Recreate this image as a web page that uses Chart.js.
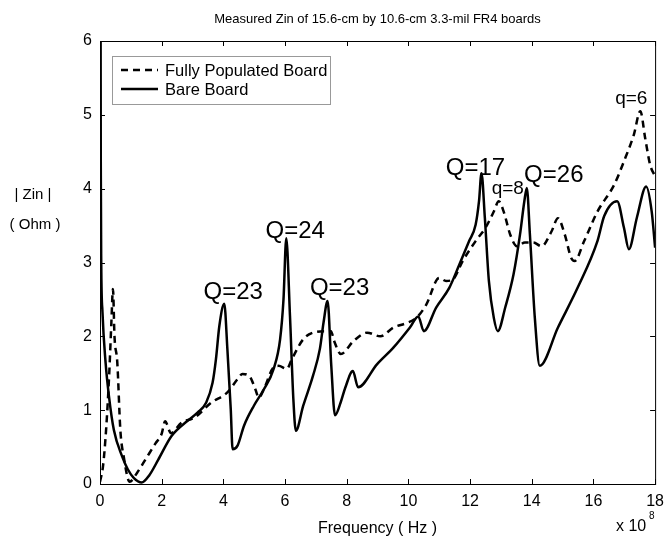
<!DOCTYPE html>
<html><head><meta charset="utf-8">
<script src="https://cdn.jsdelivr.net/npm/chart.js@4.4.0/dist/chart.umd.min.js"></script>
<style>html,body{margin:0;padding:0;background:#fff}</style>
</head><body><canvas id="c" width="672" height="539"></canvas>
<script>
// ---- data (frequency in units of 1e8 Hz, |Zin| in Ohm) ----
const bareFreq = [0.02,0.025,0.04,0.08,0.18,0.29,0.45,0.72,0.9,1.1,1.35,1.6,1.89,2.32,2.85,3.17,3.44,3.65,3.76,3.87,4.03,4.13,4.24,4.3,4.46,4.67,4.99,5.31,5.63,5.84,5.95,6.04,6.16,6.27,6.35,6.59,6.91,7.13,7.25,7.38,7.5,7.62,7.8,7.95,8.2,8.37,8.98,9.52,10.05,10.32,10.5,10.9,11.33,11.65,11.97,12.18,12.29,12.37,12.48,12.61,12.77,12.9,13.14,13.41,13.62,13.76,13.84,13.94,14.1,14.26,14.85,15.49,16.13,16.35,16.77,16.99,17.15,17.41,17.71,17.89,18.0];
const bareZin  = [6.0,4.36,3.0,2.33,1.65,1.19,0.73,0.37,0.2,0.08,0.02,0.12,0.33,0.65,0.86,0.97,1.1,1.37,1.69,2.14,2.44,1.83,1.01,0.47,0.52,0.79,1.06,1.28,1.56,1.96,2.5,3.33,2.28,1.15,0.72,1.06,1.47,1.83,2.19,2.48,1.6,0.93,1.1,1.3,1.53,1.31,1.62,1.85,2.12,2.27,2.07,2.39,2.66,2.97,3.29,3.51,3.83,4.21,3.6,2.75,2.25,2.07,2.39,2.84,3.38,3.83,4.01,3.38,2.25,1.6,2.12,2.66,3.29,3.63,3.83,3.47,3.18,3.61,4.03,3.69,3.2];
const popFreq = [0,0.1,0.2,0.3,0.37,0.42,0.47,0.56,0.66,0.77,0.96,1.2,1.5,1.8,2.0,2.11,2.3,2.64,3.07,3.6,4.13,4.46,4.62,4.88,5.04,5.15,5.31,5.63,5.79,6.06,6.22,6.59,6.91,7.34,7.49,7.59,7.81,8.23,8.66,9.09,9.52,9.94,10.26,10.58,11.0,11.22,11.44,11.76,12.18,12.5,12.77,12.93,13.09,13.3,13.52,13.78,14.05,14.32,14.64,14.85,15.07,15.28,15.39,15.7,16.13,16.67,16.99,17.31,17.52,17.68,17.84,18.0];
const popZin  = [0.03,0.25,0.75,1.5,2.2,2.64,2.0,1.65,0.73,0.37,0.03,0.15,0.35,0.55,0.68,0.85,0.69,0.83,0.9,1.1,1.24,1.42,1.49,1.44,1.28,1.17,1.28,1.58,1.6,1.56,1.69,1.96,2.05,2.07,2.07,1.94,1.76,1.94,2.05,2.0,2.12,2.18,2.25,2.43,2.79,2.75,2.77,3.02,3.29,3.47,3.69,3.83,3.69,3.38,3.22,3.27,3.27,3.22,3.42,3.6,3.38,3.06,3.02,3.29,3.69,4.05,4.37,4.73,5.05,4.68,4.32,4.17];
const seriesNames = ['Fully Populated Board','Bare Board'];
const xTicks = [0,2,4,6,8,10,12,14,16,18];
const yTicks = [0,1,2,3,4,5,6];
const annoText  = ['Q=23','Q=24','Q=23','Q=17','q=8','Q=26','q=6'];
const annoPeakX = [4.03,6.04,7.38,12.37,12.93,13.84,17.52];
const annoPeakY = [2.44,3.33,2.48,4.21,3.83,4.01,5.05];

const FONT = '"Liberation Sans", Arial, sans-serif';
// text styling / pixel offsets of annotation labels relative to their peaks
const annoStyle = [
  {dx:9, dy:-5, size:24},{dx:9, dy:0, size:24},{dx:12, dy:-6, size:24},
  {dx:-6, dy:2, size:24},{dx:9, dy:-7, size:19},{dx:27, dy:-6, size:24},{dx:-9, dy:-7, size:19}
];

const toXY = (xs, ys) => xs.map((x, i) => ({x, y: ys[i]}));

const decor = {
  id: 'decor',
  afterDatasetsDraw(chart) {
    const {ctx, chartArea: a, scales: {x, y}} = chart;
    ctx.save();
    // frame
    ctx.strokeStyle = '#000'; ctx.lineWidth = 1;
    ctx.strokeRect(a.left + 0.5, a.top + 0.5, a.right - a.left, a.bottom - a.top);
    // inward ticks
    const tl = 5;
    ctx.beginPath();
    xTicks.forEach(v => { const p = Math.round(x.getPixelForValue(v)) + 0.5;
      ctx.moveTo(p, a.bottom); ctx.lineTo(p, a.bottom - tl);
      ctx.moveTo(p, a.top); ctx.lineTo(p, a.top + tl); });
    yTicks.forEach(v => { const p = Math.round(y.getPixelForValue(v)) + 0.5;
      ctx.moveTo(a.left, p); ctx.lineTo(a.left + tl, p);
      ctx.moveTo(a.right, p); ctx.lineTo(a.right - tl, p); });
    ctx.stroke();
    // annotations
    ctx.fillStyle = '#000'; ctx.textAlign = 'center'; ctx.textBaseline = 'alphabetic';
    annoText.forEach((t, i) => {
      const s = annoStyle[i];
      ctx.font = s.size + 'px ' + FONT;
      ctx.fillText(t, x.getPixelForValue(annoPeakX[i]) + s.dx, y.getPixelForValue(annoPeakY[i]) + s.dy);
    });
    // legend box
    const lx = 112, ly = 56, lw = 218, lh = 48;
    ctx.fillStyle = '#fff'; ctx.fillRect(lx, ly, lw, lh);
    ctx.strokeStyle = '#999'; ctx.lineWidth = 1; ctx.strokeRect(lx + 0.5, ly + 0.5, lw, lh);
    chart.data.datasets.forEach((ds, i) => {
      const yy = ly + 14 + i * 19;
      ctx.strokeStyle = ds.borderColor; ctx.lineWidth = ds.borderWidth;
      ctx.setLineDash(ds.borderDash || []);
      ctx.beginPath(); ctx.moveTo(lx + 9, yy); ctx.lineTo(lx + 46, yy); ctx.stroke();
      ctx.setLineDash([]);
      ctx.fillStyle = '#000'; ctx.font = '16.5px ' + FONT; ctx.textAlign = 'left'; ctx.textBaseline = 'middle';
      ctx.fillText(ds.label, lx + 53, yy + 1);
    });
    // title and axis labels
    ctx.fillStyle = '#000'; ctx.textBaseline = 'middle'; ctx.textAlign = 'center';
    ctx.font = '13px ' + FONT;
    ctx.fillText('Measured Zin of 15.6-cm by 10.6-cm 3.3-mil FR4 boards', (a.left + a.right) / 2, 19);
    ctx.font = '16px ' + FONT;
    ctx.fillText('Frequency ( Hz )', (a.left + a.right) / 2, 529);
    ctx.font = '15px ' + FONT;
    ctx.fillText('| Zin |', 33, 195);
    ctx.fillText('( Ohm )', 35, 225);
    ctx.font = '16px ' + FONT;
    ctx.textAlign = 'left';
    ctx.fillText('x 10', 616, 527);
    ctx.font = '10px ' + FONT;
    ctx.fillText('8', 649, 516);
    ctx.restore();
  }
};

new Chart(document.getElementById('c'), {
  type: 'scatter',
  data: {
    datasets: [
      {label: seriesNames[0], data: toXY(popFreq, popZin), showLine: true, borderColor: '#000', borderWidth: 2.5,
       borderDash: [7, 5], pointRadius: 0, cubicInterpolationMode: 'monotone'},
      {label: seriesNames[1], data: toXY(bareFreq, bareZin), showLine: true, borderColor: '#000', borderWidth: 2.5,
       pointRadius: 0, cubicInterpolationMode: 'monotone'}
    ]
  },
  options: {
    responsive: false, devicePixelRatio: 1, animation: false,
    layout: {padding: {top: 41, right: 10, left: 0, bottom: 0}},
    plugins: {legend: {display: false}, tooltip: {enabled: false}, title: {display: false}},
    scales: {
      x: {type: 'linear', min: 0, max: 18,
          afterBuildTicks: s => { s.ticks = xTicks.map(v => ({value: v})); },
          afterFit: s => { s.height = 55; },
          grid: {display: false, drawTicks: false}, border: {display: false},
          ticks: {color: '#000', font: {size: 16, family: FONT}, padding: 8, maxRotation: 0, autoSkip: false}},
      y: {type: 'linear', min: 0, max: 6,
          afterBuildTicks: s => { s.ticks = yTicks.map(v => ({value: v})); },
          afterFit: s => { s.width = 100; },
          grid: {display: false, drawTicks: false}, border: {display: false},
          ticks: {color: '#000', font: {size: 16, family: FONT}, padding: 8}}
    }
  },
  plugins: [decor]
});
</script>
</body></html>
